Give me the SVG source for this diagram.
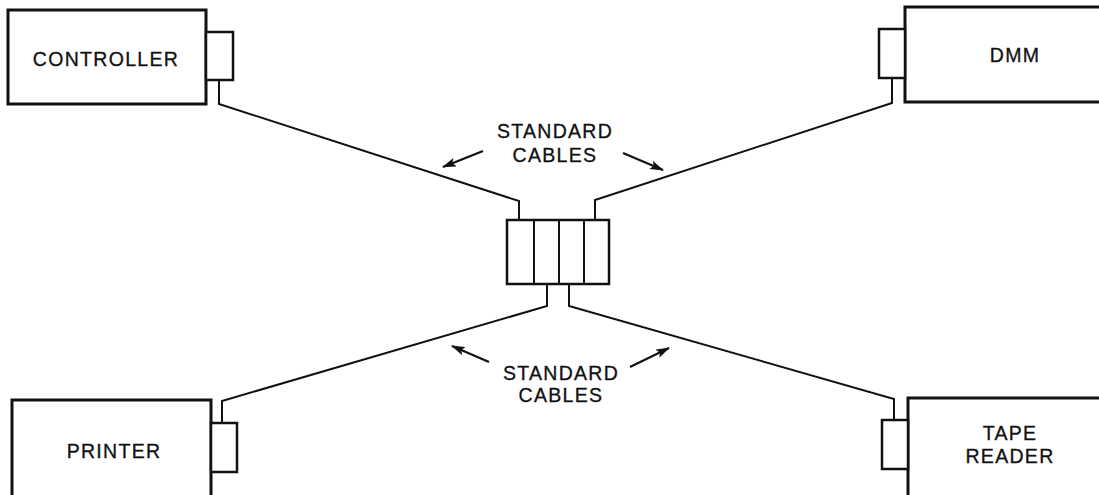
<svg xmlns="http://www.w3.org/2000/svg" width="1099" height="495" viewBox="0 0 1099 495">
<defs>
<style>
.box{fill:#fff;stroke:#111;stroke-width:3}
.port{fill:#fff;stroke:#111;stroke-width:2.5}
.wire{fill:none;stroke:#111;stroke-width:2}
.lbl{font-family:"Liberation Sans",Arial,sans-serif;font-size:19.5px;fill:#111;stroke:#111;stroke-width:0.3;text-anchor:middle;letter-spacing:1.3px}
.ptr{stroke:#111;stroke-width:2.2;fill:none}
</style>
<marker id="ah" viewBox="0 0 14 9" refX="13" refY="4.5" markerWidth="14" markerHeight="9" markerUnits="userSpaceOnUse" orient="auto">
<path d="M0,0 L14,4.5 L0,9 L3,4.5 Z" fill="#111"/>
</marker>
</defs>
<rect width="1099" height="495" fill="#fff"/>
<g id="connectors">
<polyline class="wire" points="219,80 219,104 519,201 519,220"/>
<polyline class="wire" points="892,78 892,103 595,200 595,220"/>
<polyline class="wire" points="222,423 222,401 547,306 547,284"/>
<polyline class="wire" points="894,420 894,399 569,306 569,284"/>
</g>
<g id="controller">
<rect class="box" x="8" y="10" width="198" height="94"/>
<rect class="port" x="206" y="32" width="27" height="48"/>
<text class="lbl" x="106" y="66">CONTROLLER</text>
</g>
<g id="dmm">
<rect class="box" x="905" y="7" width="200" height="95"/>
<rect class="port" x="879" y="29" width="26" height="49"/>
<text class="lbl" x="1015" y="62">DMM</text>
</g>
<g id="printer">
<rect class="box" x="12" y="400" width="199" height="105"/>
<rect class="port" x="211" y="423" width="26" height="49"/>
<text class="lbl" x="114" y="458">PRINTER</text>
</g>
<g id="tape-reader">
<rect class="box" x="908" y="398" width="200" height="105"/>
<rect class="port" x="882" y="420" width="26" height="49"/>
<text class="lbl" x="1010" y="440">TAPE</text>
<text class="lbl" x="1010" y="463">READER</text>
</g>
<g id="hub">
<rect class="port" x="507" y="220" width="102" height="64"/>
<line class="wire" x1="534" y1="220" x2="534" y2="284"/>
<line class="wire" x1="559" y1="220" x2="559" y2="284"/>
<line class="wire" x1="584" y1="220" x2="584" y2="284"/>
</g>
<g id="label-top">
<text class="lbl" x="555" y="138">STANDARD</text>
<text class="lbl" x="555" y="162">CABLES</text>
<line class="ptr" x1="483" y1="151" x2="443" y2="167" marker-end="url(#ah)"/>
<line class="ptr" x1="623" y1="153" x2="663" y2="170" marker-end="url(#ah)"/>
</g>
<g id="label-bottom">
<text class="lbl" x="561" y="380">STANDARD</text>
<text class="lbl" x="561" y="402">CABLES</text>
<line class="ptr" x1="489" y1="362" x2="452" y2="346" marker-end="url(#ah)"/>
<line class="ptr" x1="630" y1="367" x2="669" y2="348" marker-end="url(#ah)"/>
</g>
</svg>
